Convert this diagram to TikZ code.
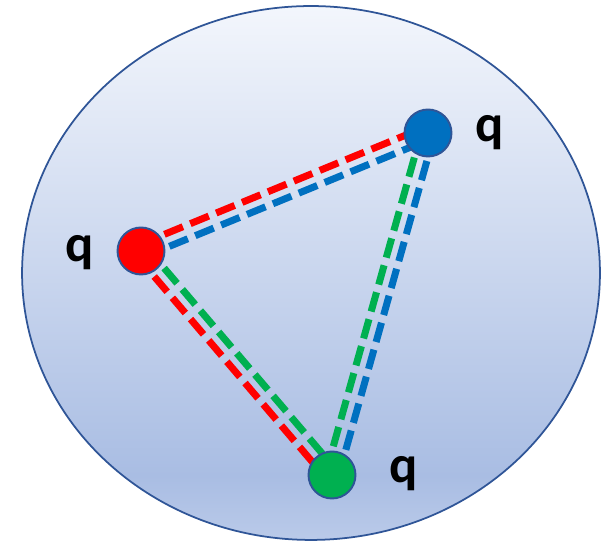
\documentclass[tikz,border=0pt]{standalone}
\usepackage{fontspec}
\setmainfont{Carlito}
\usetikzlibrary{calc}

\definecolor{qred}{HTML}{FF0000}
\definecolor{qblue}{HTML}{0070C0}
\definecolor{qgreen}{HTML}{00B050}
\definecolor{rim}{HTML}{2F5597}
\definecolor{bagtop}{HTML}{F3F6FC}
\definecolor{bagmid}{HTML}{A9BDE3}
\definecolor{bagbot}{HTML}{BACAE9}
\pgfdeclareverticalshading{bag}{100bp}{color(0bp)=(bagbot); color(25bp)=(bagbot); color(31bp)=(bagmid); color(75bp)=(bagtop); color(100bp)=(bagtop)}
\pgfdeclarelayer{back}
\pgfdeclarelayer{bonds}
\pgfsetlayers{back,bonds,main}

\begin{document}
\begin{tikzpicture}[
    x=0.02cm, y=0.02cm,
    quark/.style={circle, draw=rim, line width=1.1pt, minimum size=0.94cm, inner sep=0pt},
    qtext/.style={font=\fontsize{30}{36}\selectfont\bfseries, anchor=base, inner sep=0pt},
    bond/.style={line width=0.14cm, dash pattern=on 0.4cm off 0.16cm}
]
\useasboundingbox (0,0) rectangle (602,546);

% bag
\begin{pgfonlayer}{back}
\shadedraw[shading=bag, draw=rim, line width=1pt] (311,273) ellipse [x radius=5.78cm, y radius=5.34cm];
\end{pgfonlayer}

% quarks
\node[quark, fill=qred] (r) at (141,295) {};
\node[quark, fill=qblue] (b) at (428,413) {};
\node[quark, fill=qgreen] (g) at (332,71) {};

\node[qtext] (rq) at (80,284) {q};
\node[qtext] (bq) at (490,404) {q};
\node[qtext] (gq) at (404,63) {q};

% colour lines
\begin{pgfonlayer}{bonds}
\foreach \a/\b/\lc/\rc in {r/b/qred/qblue, r/g/qgreen/qred, g/b/qgreen/qblue}{
    \draw[bond, \lc] ($(\a.center)!0.13cm!90:(\b.center)$) -- ($(\b.center)!0.13cm!-90:(\a.center)$);
    \draw[bond, \rc] ($(\a.center)!0.13cm!-90:(\b.center)$) -- ($(\b.center)!0.13cm!90:(\a.center)$);
}
\end{pgfonlayer}

\end{tikzpicture}
\end{document}
